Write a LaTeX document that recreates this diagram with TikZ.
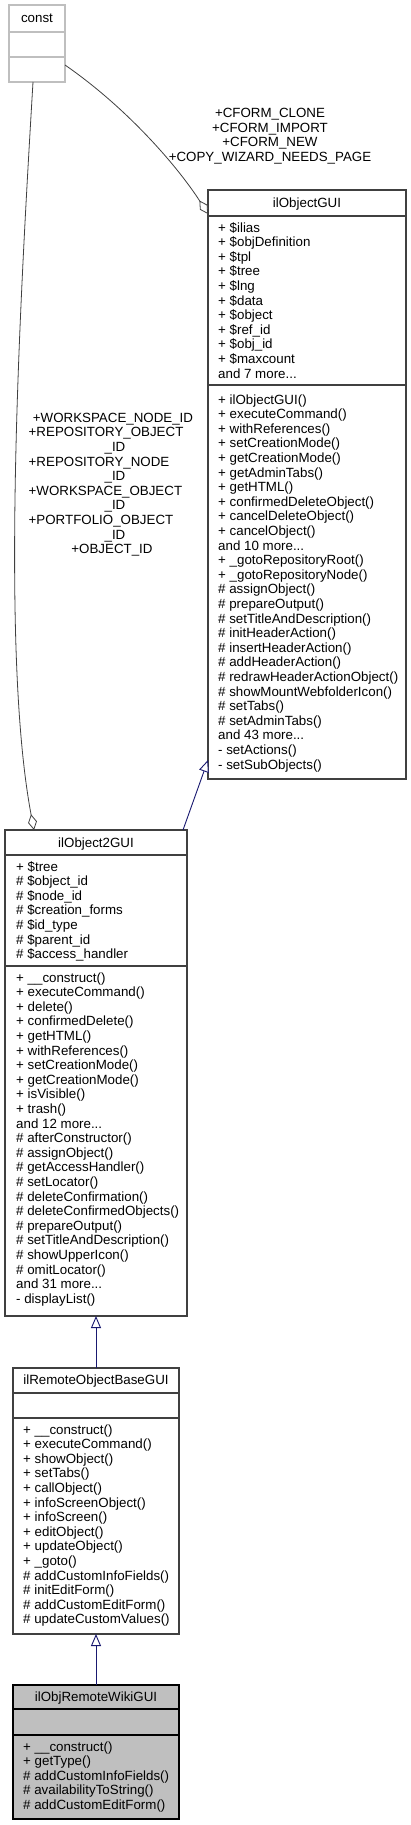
\documentclass[tikz,border=0pt]{standalone}
\usepackage{fontspec}
\setmainfont{Liberation Sans}
\usetikzlibrary{arrows.meta,calc}
\definecolor{edgeblue}{HTML}{191970}
\definecolor{edgegray}{HTML}{404040}
\definecolor{constgray}{HTML}{BFBFBF}
\definecolor{boxborder}{HTML}{404040}
\definecolor{wikifill}{HTML}{BFBFBF}
\newcommand{\clsfont}{\fontsize{13.33}{14.6}\selectfont}
\newcommand{\mdots}{...}
\newcommand{\classlines}[4]{%
  \foreach \t [count=\i from 0] in {#4} {\node[txt] (#1\i) at (#2, #3+\i*14.6) {\t};}}
\tikzset{
  classbox/.style={draw=boxborder, line width=1.2pt, fill=white, inner sep=0pt, outer sep=0pt, anchor=north west},
  divider/.style={draw=boxborder, line width=1.2pt},
  txt/.style={font=\clsfont, inner sep=0pt, anchor=base west},
  ttl/.style={font=\clsfont, inner sep=0pt, anchor=base},
  lbl/.style={font=\clsfont, inner sep=0pt, anchor=base},
  lblw/.style={font=\clsfont, inner sep=0pt, anchor=base west},
  inh/.style={draw=edgeblue, line width=0.9pt, -{Triangle[open, length=12pt, width=10pt, fill=white]}},
  assoc/.style={draw=edgegray, line width=0.8pt, -{Diamond[open, length=16pt, width=9pt, fill=white]}},
}
\begin{document}
\begin{tikzpicture}[x=1pt,y=-1pt]
\useasboundingbox (0,0) rectangle (411,1825);

% const
\node[classbox, draw=constgray, minimum width=56pt, minimum height=77pt] (const) at (9,5) {};
\draw[divider, draw=constgray] (9,32) -- (65,32);
\draw[divider, draw=constgray] (9,57) -- (65,57);
\node[ttl] (constT) at (37,22.5) {const};

% ilObjectGUI
\node[classbox, minimum width=198pt, minimum height=589pt] (objgui) at (208,190) {};
\draw[divider] (208,216) -- (406,216);
\draw[divider] (208,385) -- (406,385);
\node[ttl] (objguiT) at (307,207.5) {ilObjectGUI};
\classlines{objguiA}{218}{232}{+ \$ilias, + \$objDefinition, + \$tpl, + \$tree, + \$lng, + \$data, + \$object, + \$ref\_id, + \$obj\_id, + \$maxcount, and 7 more\mdots}
\classlines{objguiM}{218}{404}{+ ilObjectGUI(), + executeCommand(), + withReferences(), + setCreationMode(), + getCreationMode(), + getAdminTabs(), + getHTML(), + confirmedDeleteObject(), + cancelDeleteObject(), + cancelObject(), and 10 more\mdots, + \_gotoRepositoryRoot(), + \_gotoRepositoryNode(), \# assignObject(), \# prepareOutput(), \# setTitleAndDescription(), \# initHeaderAction(), \# insertHeaderAction(), \# addHeaderAction(), \# redrawHeaderActionObject(), \# showMountWebfolderIcon(), \# setTabs(), \# setAdminTabs(), and 43 more\mdots, - setActions(), - setSubObjects()}

% ilObject2GUI
\node[classbox, minimum width=182pt, minimum height=486pt] (obj2) at (5,830) {};
\draw[divider] (5,855) -- (187,855);
\draw[divider] (5,966) -- (187,966);
\node[ttl] (obj2T) at (96,847) {ilObject2GUI};
\classlines{obj2A}{16}{871}{+ \$tree, \# \$object\_id, \# \$node\_id, \# \$creation\_forms, \# \$id\_type, \# \$parent\_id, \# \$access\_handler}
\classlines{obj2M}{16}{982}{+ \_\_construct(), + executeCommand(), + delete(), + confirmedDelete(), + getHTML(), + withReferences(), + setCreationMode(), + getCreationMode(), + isVisible(), + trash(), and 12 more\mdots, \# afterConstructor(), \# assignObject(), \# getAccessHandler(), \# setLocator(), \# deleteConfirmation(), \# deleteConfirmedObjects(), \# prepareOutput(), \# setTitleAndDescription(), \# showUpperIcon(), \# omitLocator(), and 31 more\mdots, - displayList()}

% ilRemoteObjectBaseGUI
\node[classbox, minimum width=166pt, minimum height=266pt] (remote) at (13,1368) {};
\draw[divider] (13,1393) -- (179,1393);
\draw[divider] (13,1418) -- (179,1418);
\node[ttl] (remoteT) at (96,1384.5) {ilRemoteObjectBaseGUI};
\classlines{remoteM}{23}{1434}{+ \_\_construct(), + executeCommand(), + showObject(), + setTabs(), + callObject(), + infoScreenObject(), + infoScreen(), + editObject(), + updateObject(), + \_goto(), \# addCustomInfoFields(), \# initEditForm(), \# addCustomEditForm(), \# updateCustomValues()}

% ilObjRemoteWikiGUI
\node[classbox, draw=black, fill=wikifill, minimum width=166pt, minimum height=134pt] (wiki) at (13,1685) {};
\draw[divider, draw=black] (13,1709) -- (179,1709);
\draw[divider, draw=black] (13,1735) -- (179,1735);
\node[ttl] (wikiT) at (96,1701.5) {ilObjRemoteWikiGUI};
\classlines{wikiM}{23}{1751}{+ \_\_construct(), + getType(), \# addCustomInfoFields(), \# availabilityToString(), \# addCustomEditForm()}

% inheritance edges
\draw[inh] (wiki.north) -- (remote.south);
\draw[inh] (remote.north) -- (obj2.south);
\draw[inh] ($(obj2.north east)+(-4,0)$) -- ($(objgui.south west)+(0,-19)$);

% association edges
\draw[assoc] ($(const.south east)+(0,-17)$) .. controls (130,110) and (180,170) .. ($(objgui.north west)+(0,24)$);
\draw[assoc] ($(const.south)+(-4,0)$) .. controls (20,300) and (0,650) .. ($(obj2.north west)+(29,0)$);

% labels
\foreach \t [count=\i from 0] in {+CFORM\_CLONE, +CFORM\_IMPORT, +CFORM\_NEW, +COPY\_WIZARD\_NEEDS\_PAGE}
  {\node[lbl] (lblA\i) at (270, 118+\i*14.4) {\t};}

\node[lbl]  (lblB0) at (113, 422) {+WORKSPACE\_NODE\_ID};
\node[lblw] (lblB1) at (28.5, 436.7) {+REPOSITORY\_OBJECT};
\node[lbl]  (lblB2) at (115, 451.3) {\_ID};
\node[lblw] (lblB3) at (28.5, 466) {+REPOSITORY\_NODE};
\node[lbl]  (lblB4) at (115, 480.6) {\_ID};
\node[lblw] (lblB5) at (28.5, 495.3) {+WORKSPACE\_OBJECT};
\node[lbl]  (lblB6) at (115, 509.9) {\_ID};
\node[lblw] (lblB7) at (28.5, 524.6) {+PORTFOLIO\_OBJECT};
\node[lbl]  (lblB8) at (115, 539.2) {\_ID};
\node[lbl]  (lblB9) at (112, 553.9) {+OBJECT\_ID};
\end{tikzpicture}
\end{document}
